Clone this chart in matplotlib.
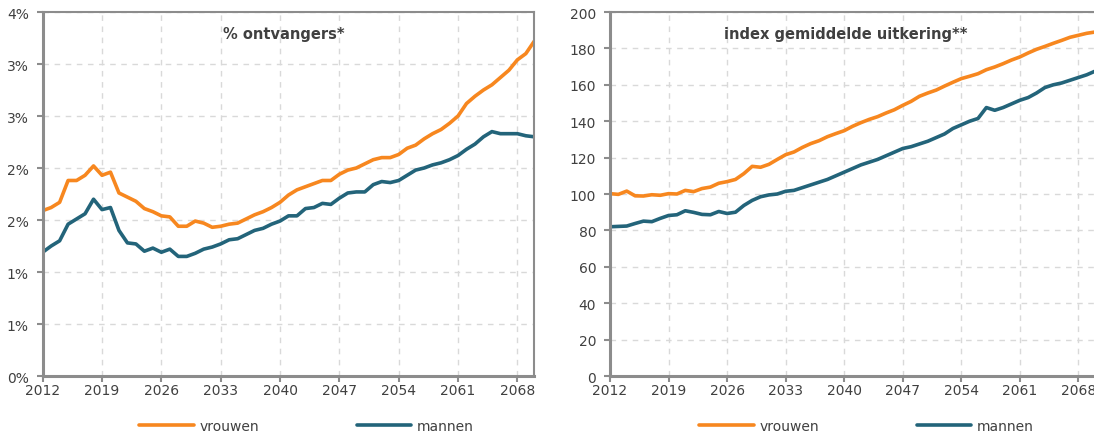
import matplotlib
matplotlib.use("Agg")
import matplotlib.pyplot as plt
import numpy as np

# --- DATA ---
years = list(range(2012, 2071))

ontvangers_vrouwen = [
    1.59, 1.62, 1.67, 1.88, 1.88, 1.93, 2.02, 1.93, 1.96, 1.76,
    1.72, 1.68, 1.61, 1.58, 1.54, 1.53, 1.44, 1.44, 1.49, 1.47,
    1.43, 1.44, 1.46, 1.47, 1.51, 1.55, 1.58, 1.62, 1.67, 1.74,
    1.79, 1.82, 1.85, 1.88, 1.88, 1.94, 1.98, 2.00, 2.04, 2.08,
    2.10, 2.10, 2.13, 2.19, 2.22, 2.28, 2.33, 2.37, 2.43, 2.50,
    2.62, 2.69, 2.75, 2.80, 2.87, 2.94, 3.04, 3.10, 3.22,
]
ontvangers_mannen = [
    1.19, 1.25, 1.30, 1.46, 1.51, 1.56, 1.70, 1.60, 1.62, 1.40,
    1.28, 1.27, 1.20, 1.23, 1.19, 1.22, 1.15, 1.15, 1.18, 1.22,
    1.24, 1.27, 1.31, 1.32, 1.36, 1.40, 1.42, 1.46, 1.49, 1.54,
    1.54, 1.61, 1.62, 1.66, 1.65, 1.71, 1.76, 1.77, 1.77, 1.84,
    1.87, 1.86, 1.88, 1.93, 1.98, 2.00, 2.03, 2.05, 2.08, 2.12,
    2.18, 2.23, 2.30, 2.35, 2.33, 2.33, 2.33, 2.31, 2.30,
]

uitkering_vrouwen = [
    100.2, 99.8, 101.6, 99.0, 98.9, 99.6, 99.3, 100.2, 100.0, 102.0,
    101.3, 103.0, 103.8, 105.9, 106.8, 108.0, 111.2, 115.2, 114.7, 116.3,
    119.0, 121.6, 123.1, 125.6, 127.7, 129.3, 131.5, 133.2, 134.8, 137.2,
    139.2, 141.0, 142.5, 144.5, 146.3, 148.7, 150.9, 153.7, 155.5, 157.1,
    159.3, 161.4, 163.4, 164.7, 166.1, 168.3, 169.8, 171.6, 173.6, 175.3,
    177.5, 179.5, 181.1, 182.8, 184.4, 186.1, 187.2, 188.3, 189.0,
]
uitkering_mannen = [
    82.0, 82.2, 82.4, 83.8, 85.1, 84.8, 86.6, 88.2, 88.6, 90.8,
    89.9, 88.8, 88.6, 90.4, 89.3, 90.0, 93.7, 96.5, 98.5, 99.5,
    100.0, 101.5, 102.0, 103.5, 105.0, 106.5, 108.0, 110.0, 112.0, 114.0,
    116.0, 117.5, 119.0, 121.0, 123.0, 125.0, 126.0, 127.5, 129.0, 131.0,
    133.0, 136.0, 138.0, 140.0, 141.5, 147.5, 146.0, 147.5, 149.5, 151.5,
    153.0, 155.5, 158.5, 160.0, 161.0, 162.5, 164.0, 165.5, 167.5,
]

x_ticks = list(range(2012, 2070, 7))
pct_ticks = [0, 0.5, 1.0, 1.5, 2.0, 2.5, 3.0, 3.5]
pct_labels = ["0%", "1%", "1%", "2%", "2%", "3%", "3%", "4%"]
idx_ticks = list(range(0, 201, 20))

# --- STYLE ---
ORANGE = '#F7871F'
TEAL = '#23647A'
SPINE = '#8C8C8C'
GRID = '#D9D9D9'
TXT = '#404040'
FS = 10

plt.rcParams['font.family'] = ['DejaVu Sans']

fig = plt.figure(figsize=(10.94, 4.35), dpi=100)
ax1 = fig.add_axes([0.039, 0.1333, 0.4494, 0.8368])
ax2 = fig.add_axes([0.5576, 0.1333, 0.4434, 0.8368])


def style_axis(ax, title, title_x, legend_x):
    ax.set_xlim(2012, 2070)
    ax.set_xticks(x_ticks)
    ax.set_xticklabels([str(y) for y in x_ticks])
    ax.grid(True, color=GRID, linestyle=(0, (4, 4)), linewidth=1.0)
    ax.set_axisbelow(True)
    for s in ['left', 'bottom']:
        ax.spines[s].set_color(SPINE)
        ax.spines[s].set_linewidth(2.2)
    for s in ['top', 'right']:
        ax.spines[s].set_color(SPINE)
        ax.spines[s].set_linewidth(1.5)
    ax.tick_params(axis='both', colors=SPINE, labelcolor=TXT, labelsize=FS,
                   length=4, width=1.5, direction='out')
    ax.tick_params(axis='x', pad=1)
    ax.tick_params(axis='y', pad=6)
    ax.text(title_x, 0.94, title, transform=ax.transAxes, ha='center', va='center',
            fontsize=FS + 0.5, fontweight='bold', color=TXT)
    ax.legend(loc='upper center', bbox_to_anchor=(legend_x, -0.083), ncol=2, frameon=False,
              fontsize=FS, handlelength=3.9, handletextpad=0.45, columnspacing=7.0,
              labelcolor=TXT)


ax1.plot(years, ontvangers_vrouwen, color=ORANGE, lw=2.6, label='vrouwen', solid_capstyle='round')
ax1.plot(years, ontvangers_mannen, color=TEAL, lw=2.6, label='mannen', solid_capstyle='round')
ax1.set_ylim(0, 3.5)
ax1.set_yticks(pct_ticks)
ax1.set_yticklabels(pct_labels)
style_axis(ax1, '% ontvangers*', 0.49, 0.537)

ax2.plot(years, uitkering_vrouwen, color=ORANGE, lw=2.6, label='vrouwen', solid_capstyle='round')
ax2.plot(years, uitkering_mannen, color=TEAL, lw=2.6, label='mannen', solid_capstyle='round')
ax2.set_ylim(0, 200)
ax2.set_yticks(idx_ticks)
style_axis(ax2, 'index gemiddelde uitkering**', 0.487, 0.529)

fig.savefig('out.png', dpi=100)
